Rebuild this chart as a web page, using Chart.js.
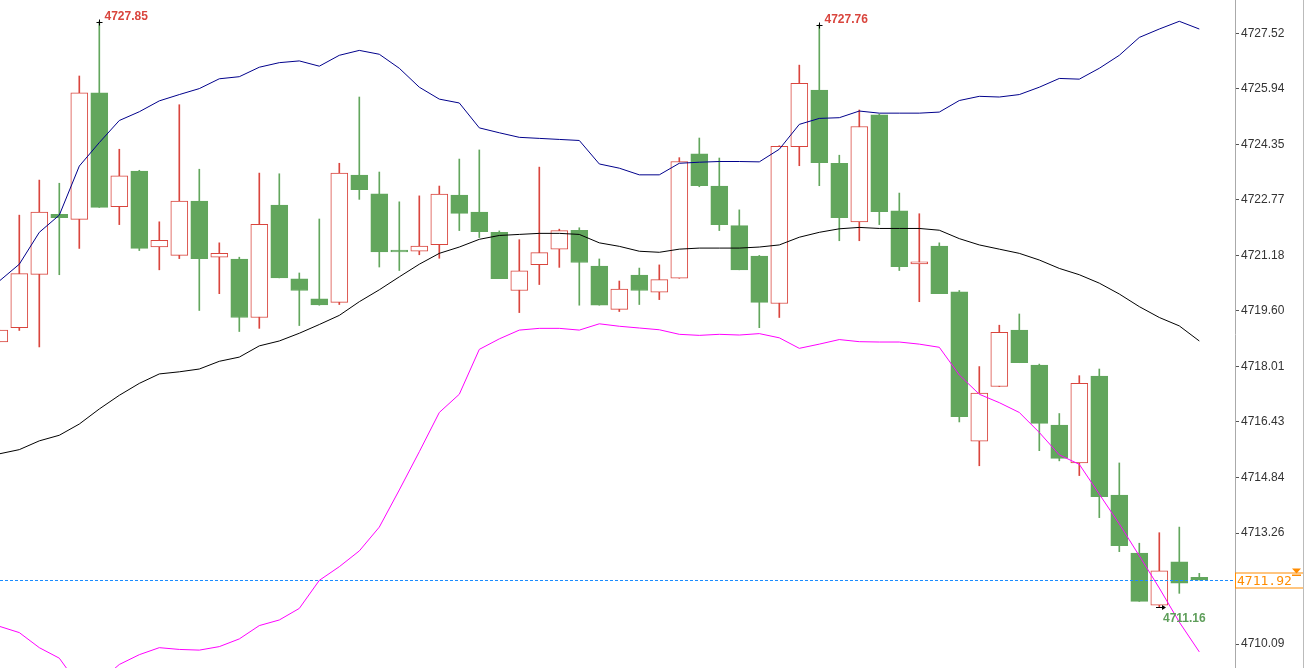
<!DOCTYPE html>
<html><head><meta charset="utf-8">
<script src="https://cdn.jsdelivr.net/npm/chart.js@4"></script>
<style>html,body{margin:0;padding:0;background:#fff;overflow:hidden}#wrap{width:1309px;height:668px;position:relative}</style>
</head><body><div id="wrap"><canvas id="c"></canvas></div>
<script>
const opens  = [4718.71,4719.12,4720.64,4722.35,4722.21,4725.82,4722.57,4723.59,4721.42,4721.18,4722.73,4721.13,4721.08,4719.41,4722.62,4720.51,4719.94,4719.84,4723.47,4722.94,4721.33,4721.30,4721.49,4722.90,4722.42,4721.84,4720.18,4720.92,4721.36,4721.90,4720.88,4719.64,4720.62,4720.13,4720.53,4724.08,4723.16,4722.03,4721.16,4719.81,4724.28,4725.90,4723.81,4722.14,4725.19,4722.45,4720.94,4721.45,4720.14,4715.88,4717.44,4719.05,4718.05,4716.34,4715.26,4717.74,4714.34,4712.69,4711.20,4712.44,4712.00];
const highs  = [4719.05,4722.33,4723.33,4723.24,4726.30,4727.85,4724.21,4723.61,4722.14,4725.48,4723.64,4721.54,4721.13,4723.53,4723.51,4720.68,4722.22,4723.81,4725.70,4723.56,4722.71,4722.88,4723.16,4723.93,4724.19,4721.88,4721.63,4723.70,4721.93,4721.97,4721.08,4720.45,4720.82,4720.91,4723.97,4724.53,4723.96,4722.48,4721.18,4724.31,4726.61,4727.76,4724.04,4725.33,4725.21,4722.96,4722.37,4721.54,4720.18,4718.01,4719.19,4719.51,4718.08,4716.67,4717.75,4717.94,4715.26,4712.97,4713.27,4713.43,4712.11];
const lows   = [4718.71,4719.04,4718.57,4720.63,4721.38,4722.55,4722.06,4721.32,4720.77,4721.09,4719.61,4720.09,4719.01,4719.10,4720.54,4719.18,4719.76,4719.78,4722.78,4720.85,4720.75,4721.20,4721.10,4721.89,4721.69,4720.52,4719.55,4720.35,4720.84,4719.76,4719.76,4719.58,4719.78,4719.92,4720.53,4723.14,4721.89,4720.77,4719.12,4719.41,4723.74,4723.17,4721.60,4721.60,4722.06,4720.75,4719.86,4720.09,4716.43,4715.18,4717.44,4718.12,4715.61,4715.32,4714.90,4713.70,4712.73,4711.31,4711.16,4711.54,4711.92];
const closes = [4719.05,4720.66,4722.42,4722.26,4725.82,4722.55,4723.45,4721.38,4721.61,4722.73,4721.09,4721.24,4719.41,4722.07,4720.54,4720.18,4719.77,4723.53,4723.06,4721.28,4721.28,4721.45,4722.93,4722.38,4721.86,4720.52,4720.74,4721.26,4721.89,4720.98,4719.76,4720.22,4720.18,4720.49,4723.86,4723.17,4722.06,4720.77,4719.84,4724.29,4726.09,4723.83,4722.26,4724.86,4722.43,4720.86,4721.00,4720.09,4716.58,4717.25,4718.99,4718.12,4716.39,4715.39,4717.53,4714.30,4712.90,4711.31,4712.18,4711.83,4711.92];
const upperBand = [4720.45,4720.93,4721.84,4722.33,4723.73,4724.40,4725.03,4725.28,4725.59,4725.77,4725.94,4726.22,4726.28,4726.55,4726.68,4726.73,4726.58,4726.89,4727.03,4726.92,4726.52,4725.98,4725.64,4725.53,4724.82,4724.68,4724.55,4724.52,4724.49,4724.46,4723.79,4723.67,4723.48,4723.48,4723.81,4723.84,4723.86,4723.86,4723.85,4724.21,4724.92,4725.09,4725.11,4725.30,4725.24,4725.24,4725.24,4725.27,4725.60,4725.72,4725.70,4725.77,4725.98,4726.23,4726.21,4726.52,4726.89,4727.40,4727.64,4727.86,4727.64];
const midBand = [4715.52,4715.64,4715.89,4716.05,4716.37,4716.80,4717.19,4717.53,4717.80,4717.86,4717.94,4718.16,4718.28,4718.60,4718.74,4718.96,4719.21,4719.47,4719.86,4720.20,4720.57,4720.93,4721.24,4721.42,4721.64,4721.75,4721.78,4721.81,4721.81,4721.78,4721.54,4721.44,4721.30,4721.27,4721.36,4721.39,4721.39,4721.39,4721.42,4721.48,4721.70,4721.84,4721.94,4721.98,4721.95,4721.95,4721.95,4721.90,4721.66,4721.48,4721.36,4721.24,4721.05,4720.81,4720.63,4720.39,4720.08,4719.72,4719.41,4719.17,4718.74];
const lowerBand = [4710.60,4710.42,4709.99,4709.69,4708.90,4709.02,4709.51,4709.79,4709.99,4709.94,4709.92,4710.02,4710.24,4710.62,4710.78,4711.11,4711.91,4712.30,4712.75,4713.43,4714.49,4715.58,4716.70,4717.22,4718.50,4718.80,4719.05,4719.10,4719.10,4719.05,4719.23,4719.16,4719.11,4719.06,4718.93,4718.90,4718.93,4718.91,4718.95,4718.83,4718.53,4718.65,4718.78,4718.72,4718.71,4718.71,4718.65,4718.56,4717.77,4717.22,4716.98,4716.70,4716.13,4715.49,4715.22,4714.37,4713.52,4712.61,4711.69,4710.72,4709.87];
const tickValues = [4727.52,4725.94,4724.35,4722.77,4721.18,4719.60,4718.01,4716.43,4714.84,4713.26,4710.09];
const lastPrice = 4711.92;
const highMarks = [{i:5,v:4727.85},{i:41,v:4727.76}];
const lowMark = {i:58,v:4711.16};

const RED='#d9453d', GREEN='#62a65d';
const idx = opens.map((_,i)=>i);
const isUp = i => closes[i] >= opens[i];
const bodies = idx.map(i=>{let a=opens[i],b=closes[i]; if(Math.abs(a-b)<0.03){b=a+0.03;} return {x:i,y:[a,b]};});
const wicks = idx.map(i=>({x:i,y:[lows[i],highs[i]]}));

const overlay = {
  id:'overlay',
  afterDatasetsDraw(chart){
    const {ctx, scales:{x,y}, chartArea} = chart;
    ctx.save();
    const yp = Math.round(y.getPixelForValue(lastPrice))+0.5;
    ctx.strokeStyle='#1a8cff'; ctx.lineWidth=1; ctx.setLineDash([3,2]);
    ctx.beginPath(); ctx.moveTo(0,yp); ctx.lineTo(chartArea.right,yp); ctx.stroke();
    ctx.setLineDash([]);
    ctx.fillStyle='#fff'; ctx.fillRect(chartArea.right+1,yp-7,67,15);
    ctx.strokeStyle='#ff8c00'; ctx.strokeRect(chartArea.right+0.5,yp-7.5,68,15);
    ctx.fillStyle='#ff8c00'; ctx.font='13px "DejaVu Sans Mono", monospace'; ctx.textBaseline='middle';
    ctx.fillText(lastPrice.toFixed(2), chartArea.right+2, yp+1);
    ctx.beginPath(); ctx.moveTo(1292,yp-12); ctx.lineTo(1301,yp-12); ctx.lineTo(1296.5,yp-7); ctx.closePath(); ctx.fill();
    ctx.fillRect(1292,yp-6,9,1.5);
    ctx.font='bold 12px Arial, "Liberation Sans", sans-serif'; ctx.textBaseline='alphabetic';
    ctx.strokeStyle='#000'; ctx.lineWidth=1;
    highMarks.forEach(m=>{
      const px=Math.round(x.getPixelForValue(m.i))+0.5, py=Math.round(y.getPixelForValue(m.v))+0.5;
      ctx.beginPath(); ctx.moveTo(px-3,py); ctx.lineTo(px+3,py); ctx.moveTo(px,py-3); ctx.lineTo(px,py+3); ctx.stroke();
      ctx.fillStyle=RED; ctx.fillText(m.v.toFixed(2), px+5, py-3);
    });
    const lx=Math.round(x.getPixelForValue(lowMark.i)), ly=Math.round(y.getPixelForValue(lowMark.v))+0.5;
    ctx.beginPath(); ctx.moveTo(lx-3,ly); ctx.lineTo(lx+6,ly); ctx.stroke();
    ctx.beginPath(); ctx.moveTo(lx+7,ly); ctx.lineTo(lx+3,ly-2.5); ctx.lineTo(lx+3,ly+2.5); ctx.closePath(); ctx.fillStyle='#000'; ctx.fill();
    ctx.fillStyle='#5e9e5a'; ctx.fillText(lowMark.v.toFixed(2), lx+4, ly+14);
    ctx.strokeStyle='#bbb'; ctx.beginPath(); ctx.moveTo(1303.5,0); ctx.lineTo(1303.5,668); ctx.stroke();
    ctx.restore();
  }
};

new Chart(document.getElementById('c'), {
  type:'bar',
  data:{datasets:[
    {type:'line',data:idx.map(i=>({x:i,y:upperBand[i]})),borderColor:'#00008b',borderWidth:1,pointRadius:0,tension:0,order:0},
    {type:'line',data:idx.map(i=>({x:i,y:midBand[i]})),borderColor:'#000',borderWidth:1,pointRadius:0,tension:0,order:0},
    {type:'line',data:idx.map(i=>({x:i,y:lowerBand[i]})),borderColor:'#ff00ff',borderWidth:1,pointRadius:0,tension:0,order:0},
    {data:bodies,barThickness:17,backgroundColor:idx.map(i=>isUp(i)?'#fff':GREEN),borderColor:idx.map(i=>isUp(i)?RED:GREEN),borderWidth:1,borderSkipped:false,order:1,grouped:false},
    {data:wicks,barThickness:1,backgroundColor:idx.map(i=>isUp(i)?RED:GREEN),borderWidth:0,order:2,grouped:false}
  ]},
  options:{
    responsive:true,maintainAspectRatio:false,animation:false,
    layout:{padding:0},
    plugins:{legend:{display:false},tooltip:{enabled:false}},
    scales:{
      x:{type:'linear',min:0.035,max:61.785,offset:false,display:false},
      y:{position:'right',min:4709.41,max:4728.468,
        afterBuildTicks:s=>{s.ticks=tickValues.map(v=>({value:v}));},
        afterFit:s=>{s.width=74; s.paddingTop=0; s.paddingBottom=0;},
        ticks:{callback:v=>v.toFixed(2),color:'#333',font:{size:12,family:'Arial, "Liberation Sans", sans-serif'},padding:2},
        grid:{drawOnChartArea:false,tickLength:4,color:'#555'},
        border:{color:'#aaa',dash:[1,2]}
      }
    }
  },
  plugins:[overlay]
});
</script></body></html>
